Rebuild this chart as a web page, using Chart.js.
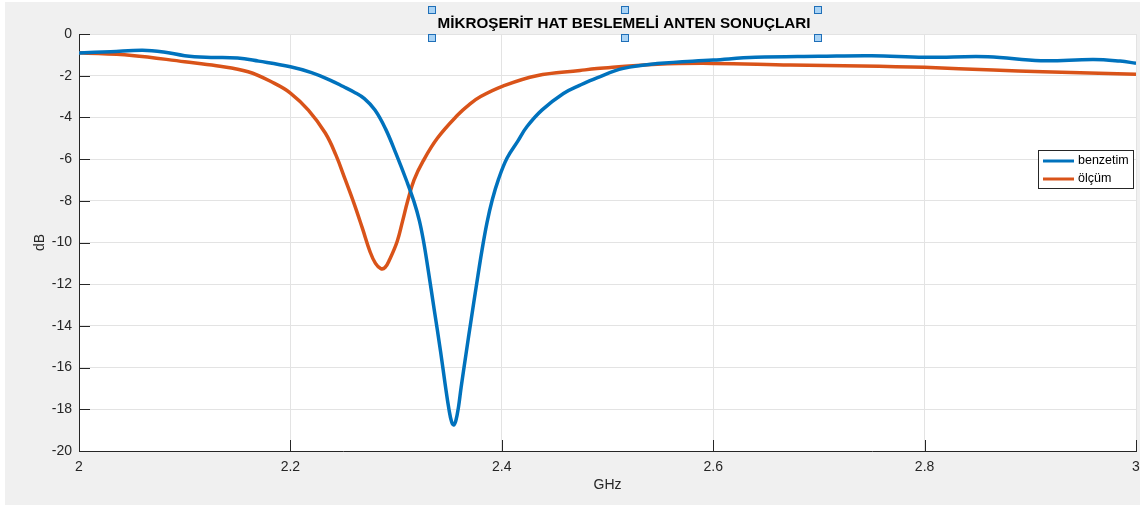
<!DOCTYPE html>
<html>
<head>
<meta charset="utf-8">
<script src="https://cdn.jsdelivr.net/npm/chart.js@4/dist/chart.umd.min.js"></script>
<style>
html,body{margin:0;padding:0;background:#fff;}
#wrap{width:1143px;height:505px;position:relative;}
</style>
</head>
<body>
<div id="wrap"><canvas id="c" width="1143" height="505"></canvas></div>
<script>
const chartTitle = "MİKROŞERİT HAT BESLEMELİ ANTEN SONUÇLARI";
const xAxisTitle = "GHz";
const yAxisTitle = "dB";
const seriesNames = ["benzetim", "ölçüm"];

const freqBenzetim = [2.00, 2.03, 2.06, 2.08, 2.10, 2.12, 2.15, 2.17, 2.20, 2.22, 2.2375, 2.25, 2.26, 2.27, 2.28, 2.29, 2.30, 2.31, 2.317, 2.322, 2.326, 2.330, 2.336, 2.342, 2.3464, 2.350, 2.3525, 2.3545, 2.3565, 2.359, 2.3615, 2.366, 2.371, 2.376, 2.381, 2.386, 2.391, 2.397, 2.405, 2.415, 2.4237, 2.4379, 2.4583, 2.4741, 2.49, 2.515, 2.547, 2.60, 2.64, 2.70, 2.75, 2.80, 2.86, 2.91, 2.96, 2.985, 3.00];
const dbBenzetim   = [-0.91, -0.85, -0.78, -0.86, -1.04, -1.12, -1.15, -1.30, -1.57, -1.85, -2.21, -2.52, -2.78, -3.1, -3.65, -4.55, -5.75, -7.05, -8.05, -8.95, -9.95, -11.2, -13.2, -15.2, -16.8, -18.0, -18.6, -18.75, -18.55, -17.9, -16.95, -15.4, -13.7, -12.05, -10.45, -9.05, -7.95, -6.95, -5.95, -5.15, -4.45, -3.65, -2.85, -2.45, -2.1, -1.65, -1.42, -1.25, -1.12, -1.07, -1.04, -1.12, -1.09, -1.28, -1.22, -1.30, -1.40];

const freqOlcum = [2.00, 2.05, 2.10, 2.13, 2.16, 2.185, 2.20, 2.217, 2.233, 2.243, 2.252, 2.26, 2.268, 2.2754, 2.2805, 2.2855, 2.2895, 2.294, 2.301, 2.306, 2.311, 2.317, 2.3255, 2.339, 2.358, 2.37, 2.38, 2.401, 2.433, 2.474, 2.49, 2.547, 2.60, 2.673, 2.74, 2.80, 2.865, 2.912, 3.00];
const dbOlcum   = [-0.90, -1.03, -1.33, -1.52, -1.81, -2.37, -2.83, -3.65, -4.75, -5.8, -7.0, -8.1, -9.3, -10.45, -11.0, -11.25, -11.2, -10.8, -9.95, -9.0, -8.0, -7.0, -6.1, -5.0, -3.9, -3.35, -3.0, -2.5, -2.0, -1.75, -1.66, -1.45, -1.41, -1.49, -1.53, -1.60, -1.73, -1.81, -1.93];

const xTicks = [2, 2.2, 2.4, 2.6, 2.8, 3];
const yTicks = [0, -2, -4, -6, -8, -10, -12, -14, -16, -18, -20];

const toPoints = (xs, ys) => xs.map((x, i) => ({x: x, y: ys[i]}));

const AXIS = '#262626';
const GRID = '#e3e3e3';
const FONT = 'Arial, "Liberation Sans", Helvetica, sans-serif';

const decor = {
  id: 'decor',
  beforeDraw(chart) {
    const ctx = chart.ctx, a = chart.chartArea;
    ctx.save();
    ctx.fillStyle = '#f0f0f0';
    ctx.fillRect(5, 2, 1135, 503);
    ctx.fillStyle = '#ffffff';
    ctx.fillRect(a.left, a.top, a.right - a.left, a.bottom - a.top);
    ctx.restore();
  },
  beforeDatasetsDraw(chart) {
    const ctx = chart.ctx, a = chart.chartArea;
    const xs = chart.scales.x, ys = chart.scales.y;
    ctx.save();
    ctx.strokeStyle = AXIS;
    ctx.lineWidth = 1;
    ctx.beginPath();
    xTicks.forEach(v => {
      const px = Math.round(xs.getPixelForValue(v)) + 0.5;
      ctx.moveTo(px, a.bottom);
      ctx.lineTo(px, a.bottom - 11);
    });
    yTicks.forEach(v => {
      const py = Math.round(ys.getPixelForValue(v)) + 0.5;
      ctx.moveTo(a.left, py);
      ctx.lineTo(a.left + 11, py);
    });
    ctx.stroke();
    ctx.restore();
  },
  afterDraw(chart) {
    const ctx = chart.ctx, a = chart.chartArea;
    ctx.save();
    ctx.fillStyle = AXIS;
    ctx.font = '14px ' + FONT;
    ctx.textAlign = 'center';
    ctx.textBaseline = 'middle';
    ctx.fillText(xAxisTitle, (a.left + a.right) / 2, 485);
    ctx.save();
    ctx.translate(40, (a.top + a.bottom) / 2);
    ctx.rotate(-Math.PI / 2);
    ctx.fillText(yAxisTitle, 0, 0);
    ctx.restore();
    let fs = 15;
    ctx.font = 'bold ' + fs + 'px ' + FONT;
    const w = ctx.measureText(chartTitle).width;
    fs = fs * 373 / w;
    ctx.font = 'bold ' + fs.toFixed(2) + 'px ' + FONT;
    ctx.fillStyle = '#000000';
    ctx.fillText(chartTitle, 624, 24);
    const hx = [432, 625, 818], hy = [10, 38];
    hy.forEach(y => hx.forEach(x => {
      ctx.fillStyle = '#a9d3f5';
      ctx.fillRect(x - 3.5, y - 3.5, 7, 7);
      ctx.strokeStyle = '#1f6fb8';
      ctx.lineWidth = 1;
      ctx.strokeRect(x - 3.5, y - 3.5, 7, 7);
    }));
    const lx = 1038.5, ly = 150.5, lw = 95, lh = 38;
    ctx.fillStyle = '#ffffff';
    ctx.fillRect(lx, ly, lw, lh);
    ctx.strokeStyle = AXIS;
    ctx.lineWidth = 1;
    ctx.strokeRect(lx, ly, lw, lh);
    ctx.font = '12.5px ' + FONT;
    ctx.textAlign = 'left';
    chart.data.datasets.forEach((ds, i) => {
      const y = 161 + i * 18;
      ctx.strokeStyle = ds.borderColor;
      ctx.lineWidth = 3;
      ctx.beginPath();
      ctx.moveTo(1043, y);
      ctx.lineTo(1074, y);
      ctx.stroke();
      ctx.fillStyle = '#000000';
      ctx.fillText(ds.label, 1078, y);
    });
    ctx.restore();
  }
};

new Chart(document.getElementById('c'), {
  type: 'line',
  data: {
    datasets: [
      { label: seriesNames[0], data: toPoints(freqBenzetim, dbBenzetim), borderColor: '#0072BD', borderWidth: 3.5, pointRadius: 0, tension: 0.4, fill: false },
      { label: seriesNames[1], data: toPoints(freqOlcum, dbOlcum), borderColor: '#D95319', borderWidth: 3.5, pointRadius: 0, tension: 0.4, fill: false }
    ]
  },
  options: {
    responsive: false,
    animation: false,
    events: [],
    layout: { padding: { left: 0, right: 7, top: 34, bottom: 0 } },
    plugins: { legend: { display: false }, title: { display: false }, tooltip: { enabled: false } },
    scales: {
      x: {
        type: 'linear', min: 2, max: 3,
        afterFit(s) { s.height = 54; s.paddingLeft = 0; s.paddingRight = 0; },
        afterBuildTicks(s) { s.ticks = xTicks.map(v => ({value: v})); },
        grid: { color: GRID, drawTicks: false, lineWidth: 1 },
        border: { display: true, color: AXIS, width: 1 },
        ticks: { padding: 8, color: AXIS, font: { size: 14, family: FONT }, maxRotation: 0, autoSkip: false,
          callback: v => String(Math.round(v * 10) / 10) }
      },
      y: {
        type: 'linear', min: -20, max: 0,
        afterFit(s) { s.width = 79; s.paddingTop = 0; s.paddingBottom = 0; },
        afterBuildTicks(s) { s.ticks = yTicks.slice().reverse().map(v => ({value: v})); },
        grid: { color: GRID, drawTicks: false, lineWidth: 1 },
        border: { display: true, color: AXIS, width: 1 },
        ticks: { padding: 7, color: AXIS, font: { size: 14, family: FONT }, autoSkip: false,
          callback: v => String(Math.round(v)) }
      }
    }
  },
  plugins: [decor]
});
</script>
</body>
</html>
